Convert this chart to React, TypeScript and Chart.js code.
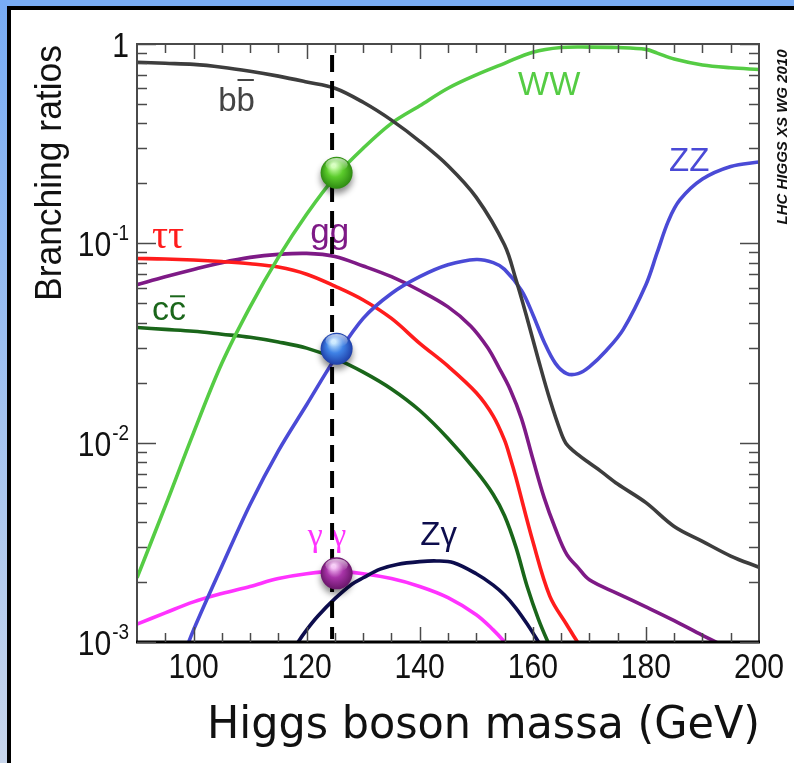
import React, { useEffect, useRef } from "react";
import { Chart, registerables } from "chart.js";

Chart.register(...registerables);

const W = 794;
const H = 763;

// axes
const massMin = 90;
const massMax = 200;
const brMin = 0.001;
const brMax = 1;
const xTickValues = [100, 120, 140, 160, 180, 200];
const xTickLabels = ["100", "120", "140", "160", "180", "200"];
const xMinorStep = 5;
const yTickValues = [1, 0.1, 0.01, 0.001];
const yTickBase = ["1", "10", "10", "10"];
const yTickExp = ["", "-1", "-2", "-3"];

// series (Higgs mass in GeV, branching ratio)
const bbMass = [90, 95, 100, 105, 110, 115, 120, 125, 130, 135, 140, 145, 150, 155, 157, 159, 161, 163, 165, 166, 168, 170, 172, 175, 180, 185, 190, 195, 200];
const bbBR = [0.81, 0.8, 0.79, 0.765, 0.73, 0.69, 0.645, 0.6, 0.51, 0.415, 0.325, 0.245, 0.17, 0.098, 0.066, 0.042, 0.026, 0.0165, 0.0112, 0.0098, 0.0087, 0.0079, 0.0072, 0.0062, 0.005, 0.0038, 0.0032, 0.0027, 0.00237];

const wwMass = [90, 95, 100, 105, 110, 115, 120, 125, 130, 135, 140, 145, 150, 155, 160, 165, 170, 175, 180, 182, 185, 190, 195, 200];
const wwBR = [0.0021, 0.0048, 0.0112, 0.025, 0.048, 0.085, 0.14, 0.215, 0.3, 0.4, 0.49, 0.6, 0.7, 0.8, 0.91, 0.96, 0.965, 0.96, 0.94, 0.9, 0.84, 0.785, 0.76, 0.745];

const zzMass = [98, 100, 105, 110, 115, 120, 125, 130, 135, 140, 145, 150, 153, 155, 158, 160, 162, 164, 166, 168, 170, 173, 176, 180, 182, 184, 186, 190, 195, 200];
const zzBR = [0.00082, 0.00115, 0.0024, 0.0049, 0.0091, 0.0155, 0.0264, 0.042, 0.056, 0.068, 0.078, 0.083, 0.08, 0.074, 0.058, 0.044, 0.032, 0.025, 0.0222, 0.0222, 0.024, 0.029, 0.037, 0.062, 0.09, 0.13, 0.165, 0.21, 0.243, 0.256];

const tauMass = [90, 95, 100, 105, 110, 115, 120, 125, 130, 135, 140, 145, 150, 153, 155, 156, 157, 160, 163, 166, 168, 170];
const tauBR = [0.084, 0.0835, 0.0825, 0.081, 0.079, 0.076, 0.07, 0.061, 0.052, 0.042, 0.0315, 0.0242, 0.0178, 0.0136, 0.0103, 0.0084, 0.0067, 0.0032, 0.0017, 0.00122, 0.00099, 0.0008];

const gluMass = [90, 95, 100, 105, 110, 115, 120, 125, 130, 135, 140, 145, 149, 152, 154, 156, 158, 160, 162, 164, 166, 168, 170, 175, 180, 185, 190, 195, 200];
const gluBR = [0.062, 0.068, 0.074, 0.08, 0.085, 0.088, 0.089, 0.086, 0.077, 0.068, 0.058, 0.048, 0.0385, 0.03, 0.0238, 0.0185, 0.0132, 0.0083, 0.0053, 0.0037, 0.00275, 0.00236, 0.00205, 0.00175, 0.0015, 0.00128, 0.00108, 0.00092, 0.00078];

const ccMass = [90, 95, 100, 105, 110, 115, 120, 125, 130, 135, 140, 145, 150, 153, 155, 157, 159, 161, 163, 165];
const ccBR = [0.0378, 0.037, 0.0362, 0.035, 0.0338, 0.032, 0.0298, 0.0265, 0.0226, 0.0186, 0.0145, 0.0105, 0.0072, 0.0055, 0.0043, 0.003, 0.0019, 0.0013, 0.00095, 0.0007];

const zgMass = [117, 118.5, 120, 122, 125, 128, 130, 133, 136, 140, 143, 146, 150, 153, 155, 157, 159, 161, 163];
const zgBR = [0.00085, 0.001, 0.00115, 0.00135, 0.00165, 0.00195, 0.0021, 0.00232, 0.00245, 0.00253, 0.00255, 0.0025, 0.0022, 0.00193, 0.00172, 0.00148, 0.00123, 0.001, 0.0008];

const aaMass = [90, 95, 100, 105, 110, 115, 120, 125, 130, 135, 140, 145, 150, 153, 155, 157];
const aaBR = [0.00123, 0.0014, 0.00159, 0.00175, 0.0019, 0.00208, 0.0022, 0.00226, 0.0022, 0.00208, 0.0019, 0.00167, 0.00137, 0.00115, 0.001, 0.00085];

const seriesNames = ["bb", "WW", "ZZ", "ττ", "gg", "cc", "Zγ", "γγ"];
const seriesMass = [bbMass, wwMass, zzMass, tauMass, gluMass, ccMass, zgMass, aaMass];
const seriesBR = [bbBR, wwBR, zzBR, tauBR, gluBR, ccBR, zgBR, aaBR];
const seriesColors = ["#3d3d3d", "#55cc44", "#4a4ad6", "#ff1c1c", "#7e1a86", "#1a661a", "#0d0d4d", "#ff33ff"];

// curve labels
const labelTexts = ["bb", "WW", "ZZ", "ττ", "gg", "cc", "Zγ", "γ γ"];
const labelColors = ["#444444", "#55cc44", "#4a4ad6", "#ff1c1c", "#7e1a86", "#1a661a", "#0d0d4d", "#ff33ff"];
const labelMass = [104.35, 157.4, 184.1, 92.66, 120.65, 92.66, 140.1, 120.2];
const labelBR = [0.461, 0.552, 0.2306, 0.0947, 0.1003, 0.0412, 0.00306, 0.00303];
const labelSize = [33, 33, 33, 40, 35, 34, 33, 34];
const labelSerif = [false, false, false, true, false, false, false, true];
const labelOverline = [true, false, false, false, false, true, false, false];

// Higgs marker
const higgsLineMass = 124.5;
const ballMass = 125.3;
const ballBR = [0.226, 0.0296, 0.00221];
const ballLight = ["#c8ffa8", "#bfe4ff", "#f4b8f4"];
const ballMid = ["#5ccc2c", "#3f82e6", "#a834a8"];
const ballDark = ["#2e8a12", "#1f3fa8", "#6a166a"];

const SANS = '"Liberation Sans", Arial, Helvetica, sans-serif';
const SERIF = '"Liberation Serif", "Times New Roman", serif';
const NARROW = 0.86;

const decorPlugin = {
  id: "decor",
  beforeDraw(chart: any) {
    const ctx = chart.ctx;
    ctx.save();
    ctx.fillStyle = "#ffffff";
    ctx.fillRect(0, 0, W, H);
    const gl = ctx.createLinearGradient(0, 0, 0, H);
    gl.addColorStop(0, "#78acf5");
    gl.addColorStop(1, "#c8d6ec");
    ctx.fillStyle = "#7aaef6";
    ctx.fillRect(0, 0, W, 6);
    ctx.fillStyle = gl;
    ctx.fillRect(0, 0, 7, H);
    ctx.fillStyle = "#000";
    ctx.fillRect(7, 6, W - 7, 4);
    ctx.fillRect(7, 6, 4, H - 6);
    ctx.restore();
  },
  afterDatasetsDraw(chart: any) {
    const ctx = chart.ctx;
    const xs = chart.scales.x;
    const ys = chart.scales.y;
    const { left, right, top, bottom } = chart.chartArea;
    ctx.save();

    const seg = (x1: number, y1: number, x2: number, y2: number) => {
      ctx.beginPath();
      ctx.moveTo(x1, y1);
      ctx.lineTo(x2, y2);
      ctx.stroke();
    };
    const narrowText = (t: string, x: number, y: number, align: string) => {
      ctx.save();
      ctx.translate(x, y);
      ctx.scale(NARROW, 1);
      ctx.textAlign = align;
      ctx.fillText(t, 0, 0);
      ctx.restore();
    };

    // frame box
    ctx.strokeStyle = "#4a4a4a";
    ctx.lineWidth = 2;
    ctx.strokeRect(left, top, right - left, bottom - top);
    ctx.strokeStyle = "#000";
    ctx.lineWidth = 3;
    seg(left - 1, bottom, right + 1, bottom);

    // ticks
    ctx.strokeStyle = "#4a4a4a";
    ctx.lineWidth = 1.5;
    for (let m = massMin + xMinorStep; m < massMax; m += xMinorStep) {
      const px = Math.round(xs.getPixelForValue(m)) + 0.5;
      const len = xTickValues.includes(m) ? 15 : 9;
      seg(px, bottom, px, bottom - len);
      seg(px, top, px, top + len);
    }
    for (let d = -3; d <= 0; d++) {
      for (let k = 1; k <= 9; k++) {
        const v = k * Math.pow(10, d);
        if (v > brMax + 1e-9) break;
        const py = Math.round(ys.getPixelForValue(v)) + 0.5;
        const len = k === 1 ? 19 : 10;
        seg(left, py, left + len, py);
        seg(right, py, right - len, py);
      }
    }

    // y tick labels with superscripts
    ctx.fillStyle = "#111";
    ctx.textBaseline = "alphabetic";
    yTickValues.forEach((v, i) => {
      const py = ys.getPixelForValue(v);
      let xr = 129;
      if (yTickExp[i]) {
        ctx.font = `22px ${SANS}`;
        narrowText(yTickExp[i], xr, py - 3, "right");
        xr -= ctx.measureText(yTickExp[i]).width * NARROW + 1;
      }
      ctx.font = `35px ${SANS}`;
      narrowText(yTickBase[i], xr, py + 13, "right");
    });

    // x tick labels
    ctx.font = `35px ${SANS}`;
    xTickValues.forEach((v, i) => {
      narrowText(xTickLabels[i], xs.getPixelForValue(v), bottom + 36, "center");
    });

    // curve labels
    ctx.textAlign = "left";
    labelTexts.forEach((t, i) => {
      const x = xs.getPixelForValue(labelMass[i]);
      const y = ys.getPixelForValue(labelBR[i]);
      ctx.font = `${labelSize[i]}px ${labelSerif[i] ? SERIF : SANS}`;
      ctx.fillStyle = labelColors[i];
      ctx.fillText(t, x, y);
      if (labelOverline[i]) {
        const w1 = ctx.measureText(t.slice(0, 1)).width;
        const w = ctx.measureText(t).width;
        ctx.strokeStyle = labelColors[i];
        ctx.lineWidth = 2;
        const oy = t === "bb" ? y - labelSize[i] * 0.94 : y - labelSize[i] * 0.7;
        seg(x + w1 + 1, oy, x + w - 1, oy);
      }
    });

    // LHC HIGGS XS WG 2010
    ctx.save();
    ctx.translate(783, 137);
    ctx.rotate(-Math.PI / 2);
    ctx.textAlign = "center";
    ctx.textBaseline = "middle";
    ctx.font = `italic bold 15px ${SANS}`;
    ctx.fillStyle = "#111";
    ctx.fillText("LHC HIGGS XS WG 2010", 0, 0);
    ctx.restore();

    // dashed Higgs line
    const hx = xs.getPixelForValue(higgsLineMass);
    ctx.strokeStyle = "#000";
    ctx.lineWidth = 4;
    ctx.setLineDash([17, 9]);
    seg(hx, top + 11, hx, bottom - 3);
    ctx.setLineDash([]);

    // balls
    ballBR.forEach((br, i) => {
      const cx = xs.getPixelForValue(ballMass);
      const cy = ys.getPixelForValue(br);
      const r = 16;
      ctx.save();
      ctx.shadowColor = "rgba(0,0,0,0.45)";
      ctx.shadowBlur = 6;
      ctx.shadowOffsetY = 5;
      const g = ctx.createRadialGradient(cx - 3, cy - 7, 2, cx, cy, r);
      g.addColorStop(0, ballLight[i]);
      g.addColorStop(0.45, ballMid[i]);
      g.addColorStop(1, ballDark[i]);
      ctx.fillStyle = g;
      ctx.beginPath();
      ctx.arc(cx, cy, r, 0, Math.PI * 2);
      ctx.fill();
      ctx.restore();
      const hg = ctx.createLinearGradient(cx, cy - r, cx, cy - 2);
      hg.addColorStop(0, "rgba(255,255,255,0.75)");
      hg.addColorStop(1, "rgba(255,255,255,0)");
      ctx.fillStyle = hg;
      ctx.beginPath();
      ctx.ellipse(cx, cy - r * 0.5, r * 0.7, r * 0.42, 0, 0, Math.PI * 2);
      ctx.fill();
    });

    // axis titles
    ctx.fillStyle = "#111";
    ctx.save();
    ctx.translate(51, top + 1);
    ctx.rotate(-Math.PI / 2);
    ctx.textAlign = "right";
    ctx.textBaseline = "middle";
    ctx.font = `36px ${SANS}`;
    const yt = "Branching ratios";
    const yw = ctx.measureText(yt).width;
    ctx.scale(256 / yw, 1);
    ctx.fillText(yt, 0, 0);
    ctx.restore();

    ctx.save();
    const title = "Higgs boson massa (GeV)";
    ctx.font = `45px "DejaVu Sans Condensed", "DejaVu Sans", sans-serif`;
    const tw = ctx.measureText(title).width;
    ctx.translate(760, 738);
    ctx.scale(553 / tw, 1);
    ctx.textAlign = "right";
    ctx.textBaseline = "alphabetic";
    ctx.fillText(title, 0, 0);
    ctx.restore();

    ctx.restore();
  },
};

export default function App() {
  const ref = useRef<HTMLCanvasElement | null>(null);
  useEffect(() => {
    if (!ref.current) return;
    const chart = new Chart(ref.current, {
      type: "line",
      data: {
        datasets: seriesNames.map((name, i) => ({
          label: name,
          data: seriesMass[i].map((m, j) => ({ x: m, y: seriesBR[i][j] })),
          borderColor: seriesColors[i],
          backgroundColor: seriesColors[i],
          borderWidth: 3.6,
          pointRadius: 0,
          fill: false,
          tension: 0.35,
        })),
      },
      options: {
        responsive: false,
        animation: false,
        layout: { padding: { top: 44, right: 35, left: 0, bottom: 0 } },
        plugins: { legend: { display: false }, tooltip: { enabled: false } },
        scales: {
          x: {
            type: "linear",
            min: massMin,
            max: massMax,
            grid: { display: false, drawTicks: false },
            border: { display: false },
            ticks: { display: false },
            afterFit: (s: any) => {
              s.height = 121;
            },
          },
          y: {
            type: "logarithmic",
            min: brMin,
            max: brMax,
            grid: { display: false, drawTicks: false },
            border: { display: false },
            ticks: { display: false },
            afterFit: (s: any) => {
              s.width = 137;
            },
          },
        },
      } as any,
      plugins: [decorPlugin],
    });
    return () => chart.destroy();
  }, []);
  return (
    <div style={{ position: "absolute", left: 0, top: 0, width: W, height: H, background: "#fff" }}>
      <canvas ref={ref} width={W} height={H} style={{ width: W, height: H, display: "block" }} />
    </div>
  );
}
